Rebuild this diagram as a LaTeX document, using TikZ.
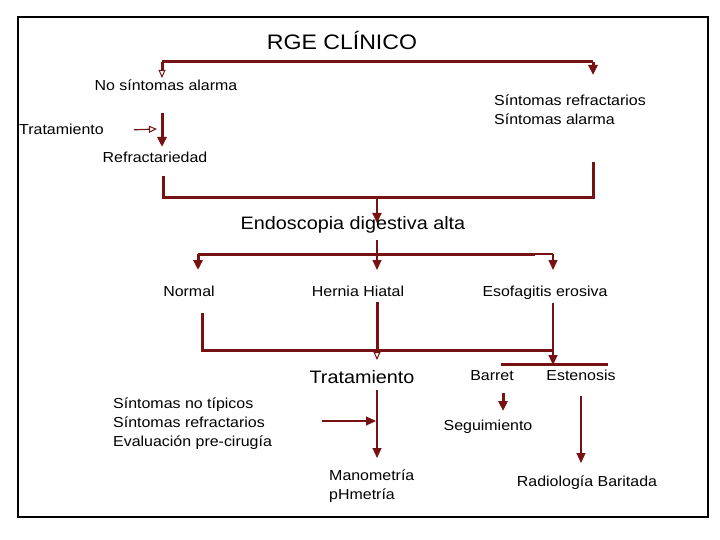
\documentclass[tikz,border=0pt]{standalone}
\usepackage{fontspec}
\setmainfont{Liberation Sans}
\usetikzlibrary{arrows.meta}
\definecolor{mred}{RGB}{118,18,18}
\tikzset{
  txt/.style={font=\fontsize{14.5}{19}\selectfont, xscale=1.1, inner sep=0pt},
  big/.style={font=\fontsize{18}{20}\selectfont, xscale=1.1, inner sep=0pt},
  thk/.style={draw=mred, line width=3pt},
  mid/.style={draw=mred, line width=2pt},
  thn/.style={draw=mred, line width=1.2pt},
  tip/.style={-{Triangle[length=10pt,width=9pt]}},
  otip/.style={-{Triangle[length=8pt,width=7pt,fill=white,line width=1pt]}}
}
\begin{document}
\begin{tikzpicture}[x=1pt,y=-1pt]
\useasboundingbox (0,0) rectangle (720,540);
\draw[line width=2pt] (17.5,17.5) rectangle (707.5,516.5);

\node[font=\fontsize{21}{24}\selectfont, xscale=1.1, inner sep=0pt] (rge) at (342,40) {RGE CLÍNICO};

% first split
\node[txt, anchor=base] (nosint) at (166,91) {No síntomas alarma};
\node[txt, anchor=west, align=left] (sintref) at (494,110) {Síntomas refractarios\\Síntomas alarma};
\coordinate (ta) at (162,62);
\coordinate (tb) at (593,62);
\draw[thk] (ta) -- (tb);
\draw[thk, otip] (ta) -- (162,78);
\draw[thk, tip] (tb) -- (593,75);

\node[txt, anchor=base west] (trat1) at (19,135) {Tratamiento};
\coordinate (r1) at (162,113);
\coordinate (r2) at (162,147);
\draw[thn, otip] ([xshift=30]trat1.east) -- (157,129);
\draw[thk, tip] (r1) -- (r2);
\node[txt, anchor=base] (refr) at (155,163) {Refractariedad};

% join to endoscopy
\coordinate (fa) at (163,198);
\coordinate (fb) at (593,198);
\coordinate (fm) at (377,198);
\draw[thk] (163,176) -- (fa) -- (fb) -- (593,162);
\draw[mid, tip] (fm) -- (377,223);
\node[big] (endo) at (353,225) {Endoscopia digestiva alta};

% three findings
\coordinate (ea) at (198,254);
\coordinate (eb) at (377,254);
\coordinate (ec) at (553,254);
\draw[thn] (377,240) -- (eb);
\draw[thk] (ea) -- (535,254);
\draw[thn] (535,254) -- (ec);
\draw[thk, tip] (ea) -- (198,270);
\draw[thn, tip] (eb) -- (377,270);
\draw[thn, tip] (ec) -- (553,270);
\node[txt, anchor=base] (normal) at (189,296) {Normal};
\node[txt, anchor=base] (hernia) at (358,296) {Hernia Hiatal};
\node[txt, anchor=base] (esof) at (545,296) {Esofagitis erosiva};

% to treatment
\draw[thk] (202,313) -- (202,350) -- (553,350);
\draw[thk] (377,302) -- (377,350);
\draw[thn, otip] (377,346) -- (377,360);
\draw[thn, tip] (553,303) -- (553,365);
\draw[thk] (501,364) -- (608,364);

\node[big] (trat2) at (362,377) {Tratamiento};
\node[txt, anchor=base] (barret) at (492,380) {Barret};
\node[txt, anchor=base] (esten) at (581,380) {Estenosis};

\node[txt, anchor=west, align=left] (sint2) at (113,424) {Síntomas no típicos\\Síntomas refractarios\\Evaluación pre-cirugía};
\draw[thn] (377,390) -- (377,421);
\draw[thn, tip] (377,421) -- (377,458);
\draw[thn, tip] (322,421) -- (376,421);
\node[txt, anchor=west, align=left] (mano) at (329,486) {Manometría\\pHmetría};

\draw[thk, tip] (503,393) -- (503,411);
\node[txt, anchor=base] (segui) at (488,430) {Seguimiento};
\draw[thn, tip] (581,396) -- (581,463);
\node[txt, anchor=base] (radio) at (587,486) {Radiología Baritada};
\end{tikzpicture}
\end{document}
